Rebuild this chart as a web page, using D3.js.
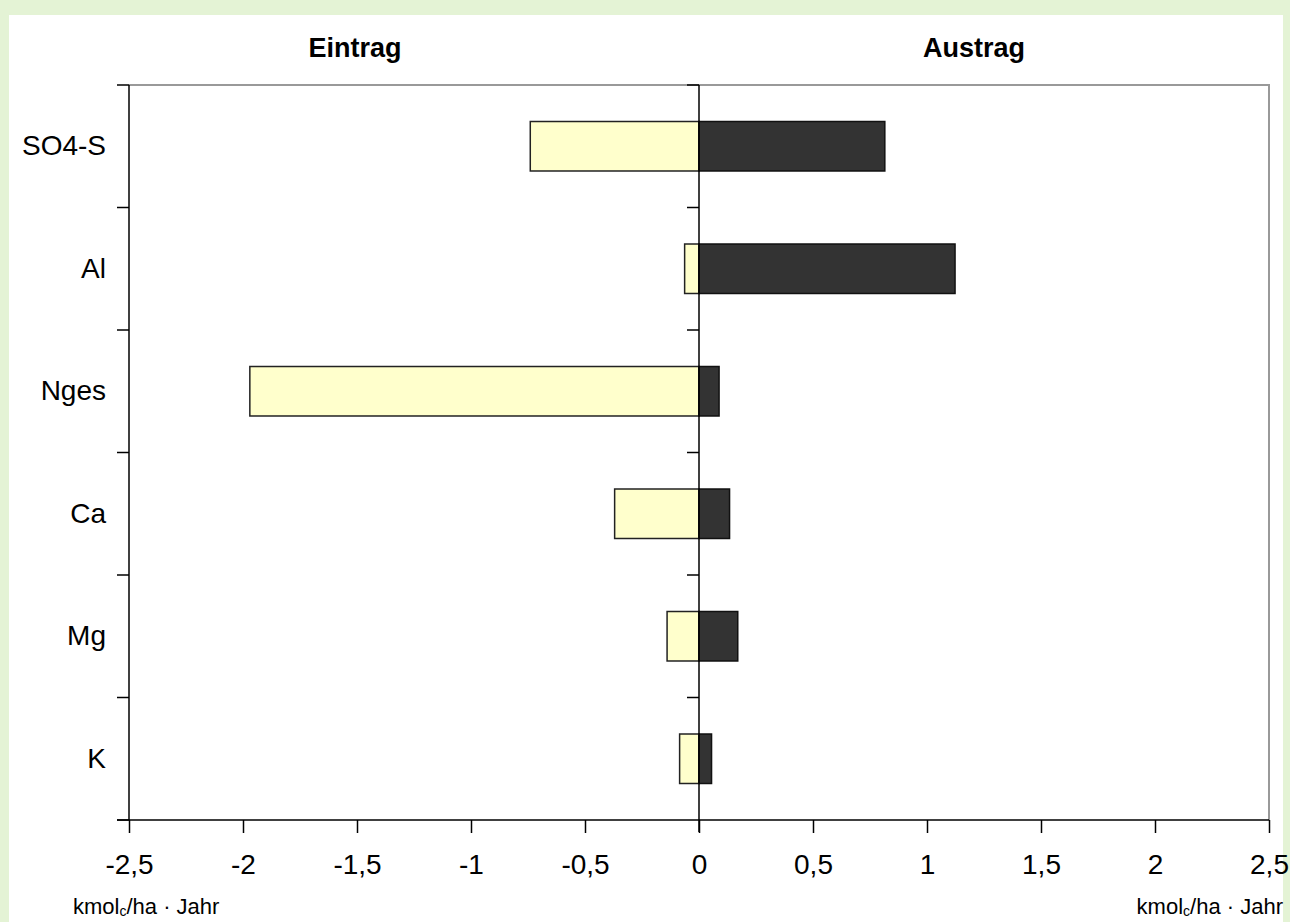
<!DOCTYPE html>
<html>
<head>
<meta charset="utf-8">
<script src="https://cdn.jsdelivr.net/npm/d3@7"></script>
<style>
  html, body { margin: 0; padding: 0; background: #e4f3d5; }
  svg { display: block; }
  text { font-family: Arial, "Liberation Sans", sans-serif; fill: #000; }
</style>
</head>
<body>
<div id="chart"></div>
<script>
// data (kmolc/ha · Jahr)
const categories = ["SO4-S", "Al", "Nges", "Ca", "Mg", "K"];
const eintrag = [-0.74, -0.063, -1.97, -0.37, -0.14, -0.085];
const austrag = [0.815, 1.123, 0.088, 0.134, 0.17, 0.055];
const xTicks = [-2.5, -2, -1.5, -1, -0.5, 0, 0.5, 1, 1.5, 2, 2.5];

const W = 1290, H = 922;
const plot = {left: 129, right: 1269, top: 85, bottom: 820};

const svg = d3.select("#chart").append("svg")
    .attr("width", W).attr("height", H);

// white panel on green page
svg.append("rect")
    .attr("x", 9).attr("y", 15)
    .attr("width", 1274).attr("height", H - 15)
    .attr("fill", "#fff");

const x = d3.scaleLinear()
    .domain([-2.5, 2.5])
    .range([plot.left, plot.right]);

const pad = 0.596;
const y = d3.scaleBand()
    .domain(categories)
    .range([plot.top, plot.bottom])
    .paddingInner(pad)
    .paddingOuter(pad / 2);

const step = y.step();
const bounds = d3.range(categories.length + 1).map(i => plot.top + i * step);

// grey frame top / right
svg.append("path")
    .attr("d", `M${plot.left},${plot.top}H${plot.right}V${plot.bottom}`)
    .attr("fill", "none")
    .attr("stroke", "#999")
    .attr("stroke-width", 2);

// bars
const rows = categories.map((c, i) => ({cat: c, ein: eintrag[i], aus: austrag[i]}));

svg.selectAll("rect.ein")
    .data(rows)
    .join("rect")
    .attr("class", "ein")
    .attr("x", d => x(d.ein))
    .attr("y", d => y(d.cat))
    .attr("width", d => x(0) - x(d.ein))
    .attr("height", y.bandwidth())
    .attr("fill", "#ffffcc")
    .attr("stroke", "#222")
    .attr("stroke-width", 1.5);

svg.selectAll("rect.aus")
    .data(rows)
    .join("rect")
    .attr("class", "aus")
    .attr("x", x(0))
    .attr("y", d => y(d.cat))
    .attr("width", d => x(d.aus) - x(0))
    .attr("height", y.bandwidth())
    .attr("fill", "#333333")
    .attr("stroke", "#111")
    .attr("stroke-width", 1.5);

// zero line with its small ticks
svg.append("line")
    .attr("x1", x(0)).attr("x2", x(0))
    .attr("y1", plot.top).attr("y2", plot.bottom + 12)
    .attr("stroke", "#000").attr("stroke-width", 1.5);
svg.selectAll("line.ztick")
    .data(bounds.slice(0, -1))
    .join("line")
    .attr("class", "ztick")
    .attr("x1", x(0) - 12).attr("x2", x(0))
    .attr("y1", d => d).attr("y2", d => d)
    .attr("stroke", "#000").attr("stroke-width", 1.5);

// left axis
svg.append("line")
    .attr("x1", plot.left).attr("x2", plot.left)
    .attr("y1", plot.top).attr("y2", plot.bottom)
    .attr("stroke", "#000").attr("stroke-width", 1.5);
svg.selectAll("line.ytick")
    .data(bounds)
    .join("line")
    .attr("class", "ytick")
    .attr("x1", plot.left - 12).attr("x2", plot.left)
    .attr("y1", d => d).attr("y2", d => d)
    .attr("stroke", "#000").attr("stroke-width", 1.5);

svg.selectAll("text.cat")
    .data(categories)
    .join("text")
    .attr("class", "cat")
    .attr("x", 106)
    .attr("y", d => y(d) + y.bandwidth() / 2 + 9)
    .attr("text-anchor", "end")
    .style("font-size", "28px")
    .text(d => d);

// bottom axis
const xAxis = d3.axisBottom(x)
    .tickValues(xTicks)
    .tickSize(13)
    .tickPadding(21)
    .tickFormat(d => String(d).replace(".", ","));

const gx = svg.append("g")
    .attr("transform", `translate(0,${plot.bottom})`)
    .call(xAxis);
gx.select(".domain").remove();
gx.selectAll(".tick line").attr("stroke", "#000").attr("stroke-width", 1.5);
gx.selectAll(".tick text")
    .style("font-size", "28px")
    .style("font-family", "Arial, 'Liberation Sans', sans-serif")
    .attr("fill", "#000");

svg.append("line")
    .attr("x1", plot.left - 12).attr("x2", plot.right)
    .attr("y1", plot.bottom).attr("y2", plot.bottom)
    .attr("stroke", "#000").attr("stroke-width", 1.5);

// titles
svg.append("text")
    .attr("x", 355).attr("y", 57)
    .attr("text-anchor", "middle")
    .style("font-size", "27px").style("font-weight", "bold")
    .text("Eintrag");
svg.append("text")
    .attr("x", 974).attr("y", 57)
    .attr("text-anchor", "middle")
    .style("font-size", "27px").style("font-weight", "bold")
    .text("Austrag");

// unit labels
function unitLabel(xpos, anchor) {
    const t = svg.append("text")
        .attr("x", xpos).attr("y", 914)
        .attr("text-anchor", anchor)
        .style("font-size", "22px");
    t.append("tspan").text("kmol");
    t.append("tspan").attr("dy", 2).style("font-size", "14px").text("c");
    t.append("tspan").attr("dy", -2).text("/ha \u00b7 Jahr");
}
unitLabel(73, "start");
unitLabel(1283, "end");
</script>
</body>
</html>
